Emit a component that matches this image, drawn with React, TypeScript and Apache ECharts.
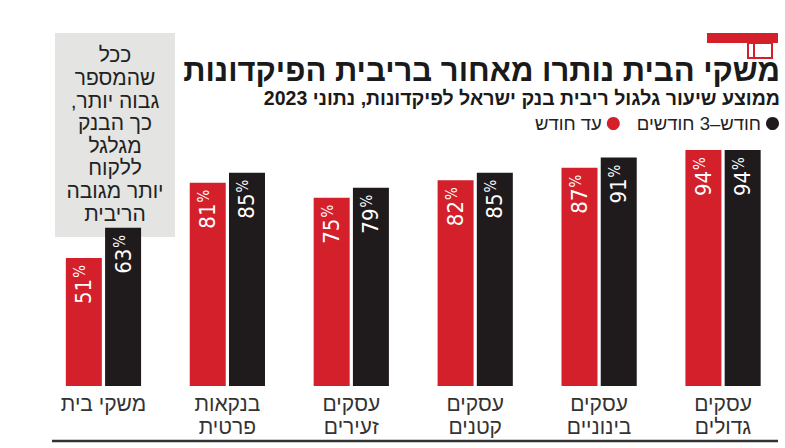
import React, { useEffect, useRef } from "react";
import * as echarts from "echarts";

const categories = ["משקי בית", "בנקאות\nפרטית", "עסקים\nזעירים", "עסקים\nקטנים", "עסקים\nבינוניים", "עסקים\nגדולים"];
const upToMonth = [51, 81, 75, 82, 87, 94];
const monthTo3 = [63, 85, 79, 85, 91, 94];
const seriesNames = ["עד חודש", "חודש–3 חודשים"];
const titleText = "משקי הבית נותרו מאחור בריבית הפיקדונות";
const subtitleText = "ממוצע שיעור גלגול ריבית בנק ישראל לפיקדונות, נתוני 2023";
const noteLines = ["ככל", "שהמספר", "גבוה יותר,\u200F", "כך הבנק", "מגלגל", "ללקוח", "יותר מגובה", "הריבית"];

const RED = "#d3202b";
const BLACK = "#1f1b1c";
const FONT = "'Liberation Sans', 'DejaVu Sans', sans-serif";
const NARROW = "'Liberation Sans Narrow', 'DejaVu Sans Condensed', 'Liberation Sans', sans-serif";

export default function App() {
  const ref = useRef<HTMLDivElement>(null);
  useEffect(() => {
    if (!ref.current) return;
    const chart = echarts.init(ref.current, null, { renderer: "svg" });
    const barLabel = {
      show: true,
      position: "insideTop",
      rotate: 90,
      align: "right",
      verticalAlign: "middle",
      distance: 7,
      formatter: (p: any) => `{n|${p.value}}{p|%}`,
      rich: {
        n: { fontSize: 22, color: "#fff", fontFamily: NARROW },
        p: { fontSize: 15, color: "#fff", fontFamily: NARROW, verticalAlign: "top", padding: [0, 0, 4, 1] },
      },
    };
    chart.setOption({
      animation: false,
      backgroundColor: "#ffffff",
      title: [
        {
          text: titleText,
          right: 5,
          top: 54,
          padding: 0,
          textStyle: { fontSize: 31, fontWeight: 900, color: "#1a1a1a", fontFamily: FONT, lineHeight: 32 },
        },
        {
          text: subtitleText,
          right: 5,
          top: 88,
          padding: 0,
          textStyle: { fontSize: 19.5, fontWeight: "bold", color: "#1a1a1a", fontFamily: FONT, lineHeight: 20 },
        },
      ],
      legend: {
        data: seriesNames,
        right: 6,
        top: 114,
        padding: 0,
        align: "right",
        icon: "circle",
        itemWidth: 13,
        itemHeight: 13,
        itemGap: 17,
        textStyle: { fontSize: 18.5, color: "#222", fontFamily: FONT },
      },
      grid: { left: 41.5, width: 750, top: 135, bottom: 62 },
      xAxis: {
        type: "category",
        data: categories,
        axisLine: { show: false },
        axisTick: { show: false },
        axisLabel: { margin: 6, fontSize: 21, lineHeight: 23, color: "#333", fontFamily: FONT, interval: 0 },
      },
      yAxis: { type: "value", min: 0, max: 100, show: false },
      graphic: [
        {
          type: "rect",
          z: 0,
          shape: { x: 55, y: 33, width: 120, height: 204 },
          style: { fill: "#e4e4e2" },
        },
        {
          type: "text",
          z: 1,
          x: 115,
          y: 43.5,
          style: {
            text: noteLines.join("\n"),
            align: "center",
            verticalAlign: "top",
            fontSize: 21,
            lineHeight: 22.6,
            fill: "#222",
            fontFamily: FONT,
          },
        },
        {
          type: "rect",
          z: 5,
          shape: { x: 707, y: 33, width: 71, height: 10 },
          style: { fill: RED },
        },
        {
          type: "rect",
          z: 5,
          shape: { x: 748, y: 43, width: 24, height: 15 },
          style: { fill: "none", stroke: RED, lineWidth: 2 },
        },
        {
          type: "line",
          z: 5,
          shape: { x1: 754, y1: 43, x2: 754, y2: 58 },
          style: { stroke: RED, lineWidth: 2 },
        },
        {
          type: "line",
          z: 5,
          shape: { x1: 52, y1: 441, x2: 778, y2: 441 },
          style: { stroke: "#333", lineWidth: 2.5 },
        },
      ],
      series: [
        {
          name: seriesNames[0],
          type: "bar",
          data: upToMonth,
          barWidth: 36,
          barGap: "9%",
          itemStyle: { color: RED },
          label: barLabel,
          z: 3,
        },
        {
          name: seriesNames[1],
          type: "bar",
          data: monthTo3,
          barWidth: 36,
          itemStyle: { color: BLACK },
          label: barLabel,
          z: 3,
        },
      ],
    });
    return () => chart.dispose();
  }, []);
  return <div ref={ref} style={{ position: "fixed", left: 0, top: 0, width: 785, height: 448 }} />;
}
